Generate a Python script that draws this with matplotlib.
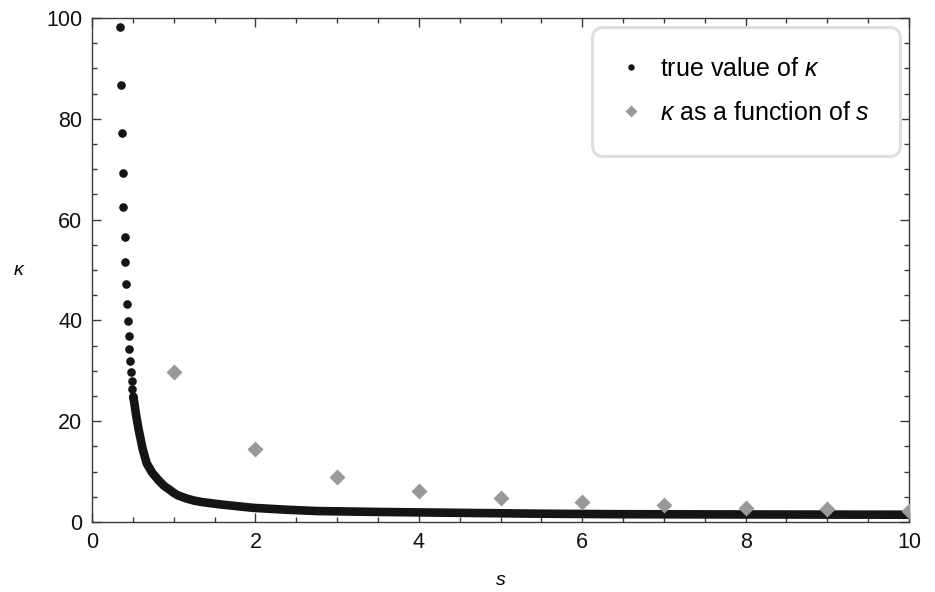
"""
Plot of the concentration parameter kappa against s: true values (dense
black dots) and kappa estimated as a function of s (grey diamonds).
"""

import matplotlib
matplotlib.use('Agg')
import matplotlib.pyplot as plt
from matplotlib.ticker import MultipleLocator

# Separate dots at the steep top of the true curve
true_s_top = [0.343, 0.355, 0.363, 0.375, 0.383, 0.400, 0.408, 0.420, 0.428,
              0.437, 0.449, 0.457, 0.469, 0.477, 0.486, 0.494, 0.506]
true_k_top = [98.2, 86.8, 77.2, 69.2, 62.6, 56.6, 51.5, 47.2, 43.3,
              39.9, 37.0, 34.3, 31.9, 29.8, 28.0, 26.3, 24.9]

# Where the dots overlap into a solid band (read along its centre)
band_s = [0.506, 0.54, 0.572, 0.62, 0.669, 0.74, 0.812, 0.88, 0.95, 1.0,
          1.05, 1.159, 1.25, 1.35, 1.567, 1.975, 2.38, 2.75, 3.5, 4.5,
          5.5, 6.46, 8.0, 10.0]
band_k = [24.9, 21.2, 18.25, 14.5, 11.65, 9.7, 8.33, 7.2, 6.4, 5.8,
          5.3, 4.65, 4.25, 3.95, 3.5, 2.81, 2.44, 2.18, 2.0, 1.82,
          1.65, 1.55, 1.5, 1.45]

# kappa as a function of s
fit_s = [1, 2, 3, 4, 5, 6, 7, 8, 9, 10]
fit_k = [29.7, 14.4, 8.9, 6.15, 4.76, 3.9, 3.37, 2.84, 2.58, 2.18]

DOT_COLOR = '#151515'
DIAMOND_COLOR = '#999999'
AXIS_COLOR = '#3a3a3a'


def setup_fonts():
    plt.rcParams['font.family'] = ['Liberation Sans', 'DejaVu Sans']
    plt.rcParams['mathtext.fontset'] = 'custom'
    plt.rcParams['mathtext.rm'] = 'Liberation Sans'
    plt.rcParams['mathtext.it'] = 'Liberation Sans:italic'


def main():
    setup_fonts()

    fig = plt.figure(figsize=(9.35, 5.92), dpi=100)
    ax = fig.add_axes([0.0984, 0.1182, 0.8738, 0.8514])

    # True curve: thick band plus the separated dots on top
    ax.plot(band_s, band_k, color=DOT_COLOR, lw=6.2,
            solid_capstyle='round', solid_joinstyle='round', zorder=3)
    ax.plot(true_s_top, true_k_top, 'o', color=DOT_COLOR, ms=6.2,
            mec='none', zorder=3, label=r'true value of $\mathit{\kappa}$')

    ax.plot(fit_s, fit_k, 'D', color=DIAMOND_COLOR, ms=8.2, mec='none',
            zorder=4, label=r'$\mathit{\kappa}$ as a function of $\mathit{s}$')

    ax.set_xlim(0, 10)
    ax.set_ylim(0, 100)

    ax.xaxis.set_major_locator(MultipleLocator(2))
    ax.xaxis.set_minor_locator(MultipleLocator(0.5))
    ax.yaxis.set_major_locator(MultipleLocator(20))
    ax.yaxis.set_minor_locator(MultipleLocator(5))

    ax.tick_params(which='both', direction='in', top=True, right=True,
                   color=AXIS_COLOR, width=1.0)
    ax.tick_params(which='major', length=6.3, labelsize=15.5, pad=7,
                   labelcolor='#111111')
    ax.tick_params(which='minor', length=3.6)
    for spine in ax.spines.values():
        spine.set_color(AXIS_COLOR)
        spine.set_linewidth(1.0)

    ax.set_xlabel(r'$\mathit{s}$', fontsize=14, labelpad=14)
    ax.set_ylabel(r'$\mathit{\kappa}$', fontsize=14, rotation=0,
                  labelpad=19, va='center')

    leg = ax.legend(loc='upper right', fontsize=18, frameon=True,
                    fancybox=True, borderpad=1.22, labelspacing=0.8,
                    handlelength=0.7, handletextpad=0.8,
                    borderaxespad=0.35)
    handles = leg.legend_handles
    handles[0].set_markersize(4.6)
    handles[1].set_markersize(6.6)
    frame = leg.get_frame()
    frame.set_boxstyle('round', pad=0, rounding_size=0.45)
    frame.set_edgecolor('#dedede')
    frame.set_linewidth(2.2)
    frame.set_facecolor('white')
    frame.set_alpha(1.0)

    plt.savefig('out.png', dpi=100)
    plt.close()


if __name__ == "__main__":
    main()
